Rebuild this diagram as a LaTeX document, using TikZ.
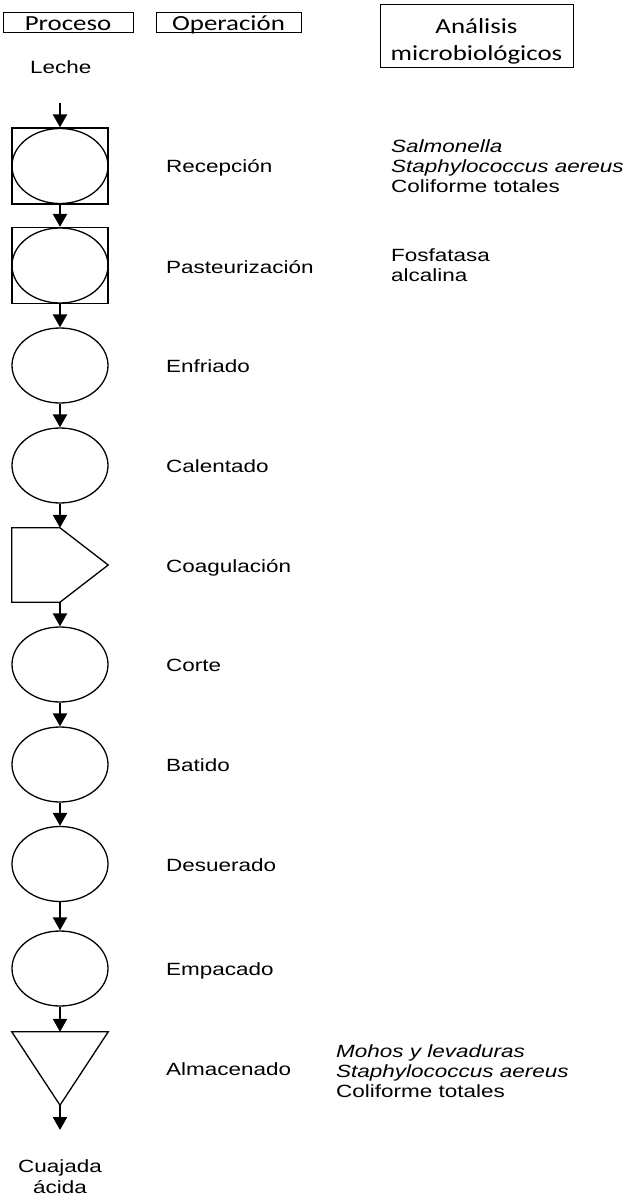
\documentclass[tikz,border=0pt]{standalone}
\usepackage{fontspec}
\setmainfont{Liberation Sans}[FakeStretch=1.27]
\newfontfamily\calibri{Carlito}[FakeStretch=1.25]
\usetikzlibrary{arrows.meta,shapes.geometric}

\tikzset{
  flecha/.style={line width=2.4pt, -{Triangle[width=14pt,length=13pt]}},
  linea/.style={line width=1.3pt, line join=miter},
  elipse/.style={ellipse, draw, line width=1.3pt, minimum width=96pt, minimum height=75pt, inner sep=0pt},
  caja/.style={rectangle, draw, line width=1.3pt, minimum width=96pt, minimum height=76pt, inner sep=0pt},
  hueco/.style={rectangle, minimum width=96pt, minimum height=74pt, inner sep=0pt},
  texto/.style={font=\fontsize{17.7}{20}\selectfont, inner sep=0pt, anchor=base west},
  titulo/.style={draw, line width=0.9pt, font=\calibri\fontsize{21.5}{27}\selectfont, inner sep=0pt, align=center},
  cabecera/.style={titulo, minimum height=20pt, text height=18pt, text depth=0pt, inner ysep=1pt},
}

\begin{document}
\begin{tikzpicture}[x=1pt, y=-1pt]
    \useasboundingbox (0,0) rectangle (626,1198);

    % Kopfzeile
    \node[cabecera, minimum width=130pt] (proceso) at (68,22) {Proceso};
    \node[cabecera, minimum width=145pt] (operacion) at (228.5,22) {Operación};
    \node[titulo, minimum width=193pt, minimum height=63pt] (analisis) at (476.5,35.5) {\rule{0pt}{26pt}Análisis\\microbiológicos};
    \node[texto] (leche) at (30,73.5) {Leche};

    % Symbole
    \node[caja] (recepcion) at (60,166) {};
    \node[elipse] (recepcionE) at (recepcion) {};
    \node[caja] (pasteurizacion) at (60,265.5) {};
    \node[elipse] (pasteurizacionE) at (pasteurizacion) {};
    \node[elipse] (enfriado) at (60,365.5) {};
    \node[elipse] (calentado) at (60,465.5) {};
    \node[hueco] (coagulacion) at (60,565) {};
    \draw[linea] (coagulacion.north west) -- (coagulacion.north) -- (coagulacion.east)
        -- (coagulacion.south) -- (coagulacion.south west) -- cycle;
    \node[elipse] (corte) at (60,664.5) {};
    \node[elipse] (batido) at (60,764.5) {};
    \node[elipse] (desuerado) at (60,864) {};
    \node[elipse] (empacado) at (60,968.5) {};
    \node[hueco, minimum height=73pt] (almacenado) at (60,1068.5) {};
    \draw[linea] (almacenado.north west) -- (almacenado.north east) -- (almacenado.south) -- cycle;

    % Pfeile
    \coordinate (inicio) at (60,103);
    \coordinate (fin) at (60,1130);
    \draw[flecha] (inicio) -- (recepcion);
    \foreach \a/\b in {recepcion/pasteurizacion, pasteurizacion/enfriado, enfriado/calentado,
        calentado/coagulacion, coagulacion/corte, corte/batido, batido/desuerado,
        desuerado/empacado, empacado/almacenado}
        \draw[flecha] (\a) -- (\b);
    \draw[flecha] (almacenado) -- (fin);

    % Operationen
    \foreach \y/\t [count=\i] in {172.5/Recepción, 273/Pasteurización, 372.5/Enfriado,
        472.5/Calentado, 572/Coagulación, 671.5/Corte, 771.5/Batido, 871/Desuerado,
        975.5/Empacado, 1075/Almacenado}
        \node[texto] (op\i) at (166,\y) {\t};

    % Analysen
    \node[texto] (salmonella) at (391,153) {\textit{Salmonella}};
    \node[texto] (staphA) at (391,173) {\textit{Staphylococcus aereus}};
    \node[texto] (coliA) at (391,193) {Coliforme totales};
    \node[texto] (fosfatasa) at (391,261) {Fosfatasa};
    \node[texto] (alcalina) at (391,281) {alcalina};
    \node[texto] (mohos) at (336,1057) {\textit{Mohos y levaduras}};
    \node[texto] (staphB) at (336,1077) {\textit{Staphylococcus aereus}};
    \node[texto] (coliB) at (336,1097) {Coliforme totales};

    % Produkt
    \node[texto, anchor=center, align=center, font=\fontsize{17.7}{21}\selectfont] (cuajada) at (60,1177) {Cuajada\\ácida};
\end{tikzpicture}
\end{document}
